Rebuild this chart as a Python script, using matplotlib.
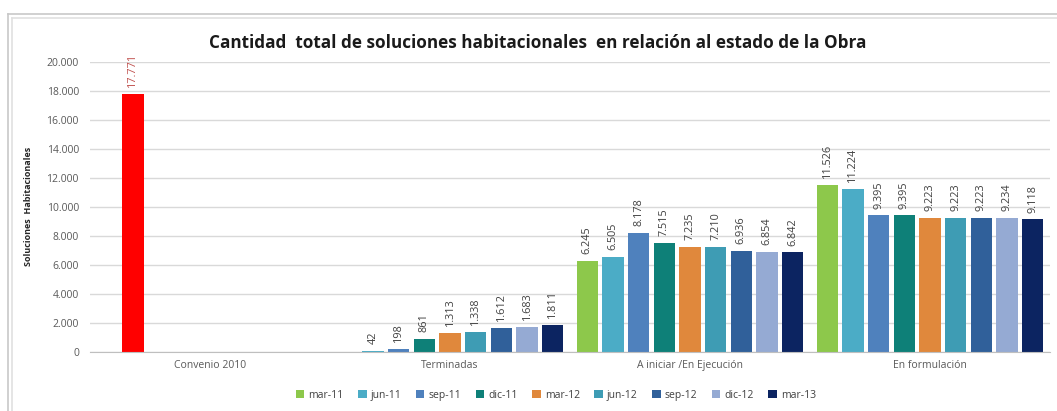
import matplotlib
matplotlib.use("Agg")
import matplotlib.pyplot as plt
from matplotlib.patches import Patch
from matplotlib.lines import Line2D
import numpy as np

plt.rcParams['font.family'] = ['Open Sans', 'DejaVu Sans']

categories = ["Convenio 2010", "Terminadas", "A iniciar /En Ejecución", "En formulación"]
series_names = ["mar-11", "jun-11", "sep-11", "dic-11", "mar-12", "jun-12", "sep-12", "dic-12", "mar-13"]
series_colors = ["#8DC84B", "#4BACC6", "#4F81BD", "#0E8078", "#E0883C",
                 "#3E9CB4", "#30609A", "#95AAD3", "#0C2461"]

# values per series: [Terminadas, A iniciar /En Ejecución, En formulación]
terminadas = [None, 42, 198, 861, 1313, 1338, 1612, 1683, 1811]
a_iniciar = [6245, 6505, 8178, 7515, 7235, 7210, 6936, 6854, 6842]
en_formulacion = [11526, 11224, 9395, 9395, 9223, 9223, 9223, 9234, 9118]

convenio_value = 17771
convenio_slot = 1
convenio_color = "#FF0000"

yticks = [0, 2000, 4000, 6000, 8000, 10000, 12000, 14000, 16000, 18000, 20000]


def fmt(v):
    return f"{v:,}".replace(",", ".")


fig = plt.figure(figsize=(10.57, 4.11), dpi=100)
ax = fig.add_axes([90 / 1057, 1 - 351.7 / 411, 960 / 1057, 290 / 411])

n = len(series_names)
pitch = 0.107
width = 0.088
x = np.arange(len(categories))

label_color = "#404040"
for i, name in enumerate(series_names):
    vals = [terminadas[i], a_iniciar[i], en_formulacion[i]]
    off = (i - (n - 1) / 2) * pitch
    for j, v in enumerate(vals):
        if v is None:
            continue
        xc = x[j + 1] + off
        ax.bar(xc, v, width=width, color=series_colors[i], zorder=3)
        ax.annotate(fmt(v), (xc, v), xytext=(0, 5), textcoords="offset points",
                    rotation=90, ha="center", va="bottom", fontsize=7.8,
                    color=label_color, annotation_clip=False)

# Convenio bar
off = (convenio_slot - (n - 1) / 2) * pitch
ax.bar(x[0] + off, convenio_value, width=width, color=convenio_color, zorder=3)
ax.annotate(fmt(convenio_value), (x[0] + off, convenio_value), xytext=(0, 5),
            textcoords="offset points", rotation=90, ha="center", va="bottom",
            fontsize=7.8, color="#C0504D", annotation_clip=False)

ax.set_xlim(-0.5, len(categories) - 0.5)
ax.set_ylim(0, 20000)
ax.set_yticks(yticks)
ax.set_yticklabels([fmt(t) for t in yticks], fontsize=7.5, color="#595959")
ax.set_xticks(x)
ax.set_xticklabels(categories, fontsize=7.5, color="#595959")
ax.tick_params(axis="both", length=0, pad=8)
ax.tick_params(axis="x", pad=6)
ax.grid(axis="y", color="#D9D9D9", lw=1, zorder=0)
for s in ["top", "right", "left"]:
    ax.spines[s].set_visible(False)
ax.spines["bottom"].set_color("#BFBFBF")
ax.spines["bottom"].set_zorder(4)

ax.set_ylabel("Soluciones  Habitacionales", fontsize=6.5, fontweight="bold",
              color="#262626", labelpad=10)

fig.text(0.509, 1 - 43 / 411, "Cantidad  total de soluciones habitacionales  en relación al estado de la Obra",
         ha="center", va="center", fontsize=12.3, fontweight="bold", color="#1a1a1a")

handles = [Patch(facecolor=c, edgecolor="none") for c in series_colors]
fig.legend(handles, series_names, loc="center", bbox_to_anchor=(556 / 1057, 1 - 395 / 411),
           ncol=9, frameon=False, fontsize=7.5, handlelength=0.8, handleheight=0.8,
           handletextpad=0.4, columnspacing=1.4, labelcolor="#404040")

# outer frame (double gray line)
for px, c in [(8, "#C8C8C8"), (12, "#E0E0E0")]:
    fig.add_artist(Line2D([px / 1057, px / 1057], [0, 1 - (px + 6) / 411],
                          transform=fig.transFigure, color=c, lw=1.2))
    fig.add_artist(Line2D([px / 1057, 1], [1 - (px + 6) / 411, 1 - (px + 6) / 411],
                          transform=fig.transFigure, color=c, lw=1.2))

fig.savefig("out.png", dpi=100)
